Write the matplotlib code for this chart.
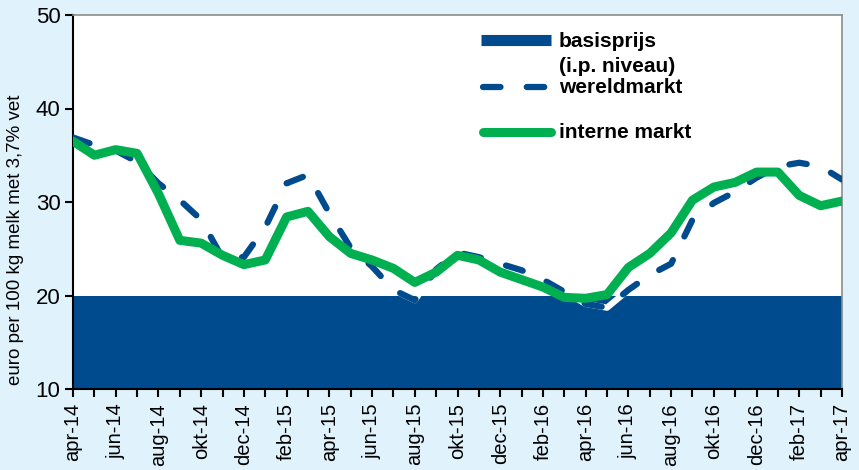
import numpy as np
import matplotlib
matplotlib.use("Agg")
import matplotlib.pyplot as plt

# maanden apr-14 .. apr-17
maanden = ["apr-14", "mei-14", "jun-14", "jul-14", "aug-14", "sep-14", "okt-14", "nov-14",
           "dec-14", "jan-15", "feb-15", "mrt-15", "apr-15", "mei-15", "jun-15", "jul-15",
           "aug-15", "sep-15", "okt-15", "nov-15", "dec-15", "jan-16", "feb-16", "mrt-16",
           "apr-16", "mei-16", "jun-16", "jul-16", "aug-16", "sep-16", "okt-16", "nov-16",
           "dec-16", "jan-17", "feb-17", "mrt-17", "apr-17"]

basisprijs = [20] * 37

wereldmarkt = [36.9, 36.1, 35.5, 34.3, 32.0, 30.2, 28.1, 24.0, 24.1, 27.3,
               32.0, 32.9, 28.8, 25.1, 23.1, 20.6, 19.5, 22.8, 24.6, 24.1,
               23.4, 22.7, 21.7, 20.4, 19.1, 18.7, 20.6, 22.2, 23.4, 28.1,
               29.9, 31.1, 32.6, 33.8, 34.2, 33.8, 32.4]

interne_markt = [36.5, 35.0, 35.6, 35.2, 30.9, 25.9, 25.6, 24.3, 23.3, 23.8,
                 28.4, 29.0, 26.3, 24.5, 23.8, 22.9, 21.4, 22.5, 24.3, 23.8,
                 22.5, 21.7, 20.9, 19.8, 19.7, 20.1, 23.0, 24.5, 26.7, 30.2,
                 31.6, 32.1, 33.2, 33.2, 30.7, 29.6, 30.1]

bg = "#E0F2FC"
blauw = "#004A8E"
groen = "#00B050"

plt.rcParams['font.family'] = ['Liberation Sans', 'DejaVu Sans']

fig = plt.figure(figsize=(8.59, 4.70), dpi=100, facecolor=bg)
ax = fig.add_axes([73/859, 1-389/470, 769/859, 374/470])
ax.set_facecolor("white")

x = np.arange(len(maanden))
ax.fill_between(x, 10, basisprijs, color=blauw, lw=0, zorder=1)
# witte onderlaag: gaten van de stippellijn zijn wit
ax.plot(x, wereldmarkt, color="white", lw=4.5, solid_capstyle="round",
        solid_joinstyle="round", zorder=2)
ax.plot(x, wereldmarkt, color=blauw, lw=4.5, ls=(0, (2.8, 4.2)),
        dash_capstyle="round", zorder=3)
ax.plot(x, interne_markt, color=groen, lw=6.5, solid_capstyle="round",
        solid_joinstyle="round", zorder=4)

ax.set_xlim(0, 36)
ax.set_ylim(10, 50)
ax.set_yticks([10, 20, 30, 40, 50])
ax.set_xticks(x, minor=True)
ax.set_xticks(x[::2])
ax.set_xticklabels(maanden[::2], rotation=90, fontsize=14.5)
ax.tick_params(axis="y", labelsize=16, direction="out", length=6, width=1.5, pad=3)
ax.tick_params(axis="x", which="both", direction="out", length=6, width=1.5, pad=4)
ax.set_ylabel("euro per 100 kg melk met 3,7% vet", fontsize=13.5)
ax.yaxis.set_label_coords(-0.064, 0.40)

for s in ["left", "bottom"]:
    ax.spines[s].set_color("black")
    ax.spines[s].set_linewidth(1.5)
for s in ["top", "right"]:
    ax.spines[s].set_color("#8C8C8C")
    ax.spines[s].set_linewidth(1.2)

# legenda
tr = ax.transAxes
ax.plot([0.531, 0.622], [0.933, 0.933], color=blauw, lw=8, solid_capstyle="butt",
        transform=tr, zorder=5)
ax.text(0.632, 0.928, "basisprijs", transform=tr, fontsize=15, fontweight="bold", va="center")
ax.text(0.632, 0.861, "(i.p. niveau)", transform=tr, fontsize=15, fontweight="bold", va="center")
ax.plot([0.533, 0.620], [0.807, 0.807], color=blauw, lw=4.5, ls=(0, (2.8, 4.2)),
        dash_capstyle="round", transform=tr, zorder=5)
ax.text(0.632, 0.807, "wereldmarkt", transform=tr, fontsize=15, fontweight="bold", va="center")
ax.plot([0.533, 0.622], [0.687, 0.687], color=groen, lw=6.5, solid_capstyle="round",
        transform=tr, zorder=5)
ax.text(0.632, 0.687, "interne markt", transform=tr, fontsize=15, fontweight="bold", va="center")

fig.savefig("out.png", dpi=100, facecolor=bg)
